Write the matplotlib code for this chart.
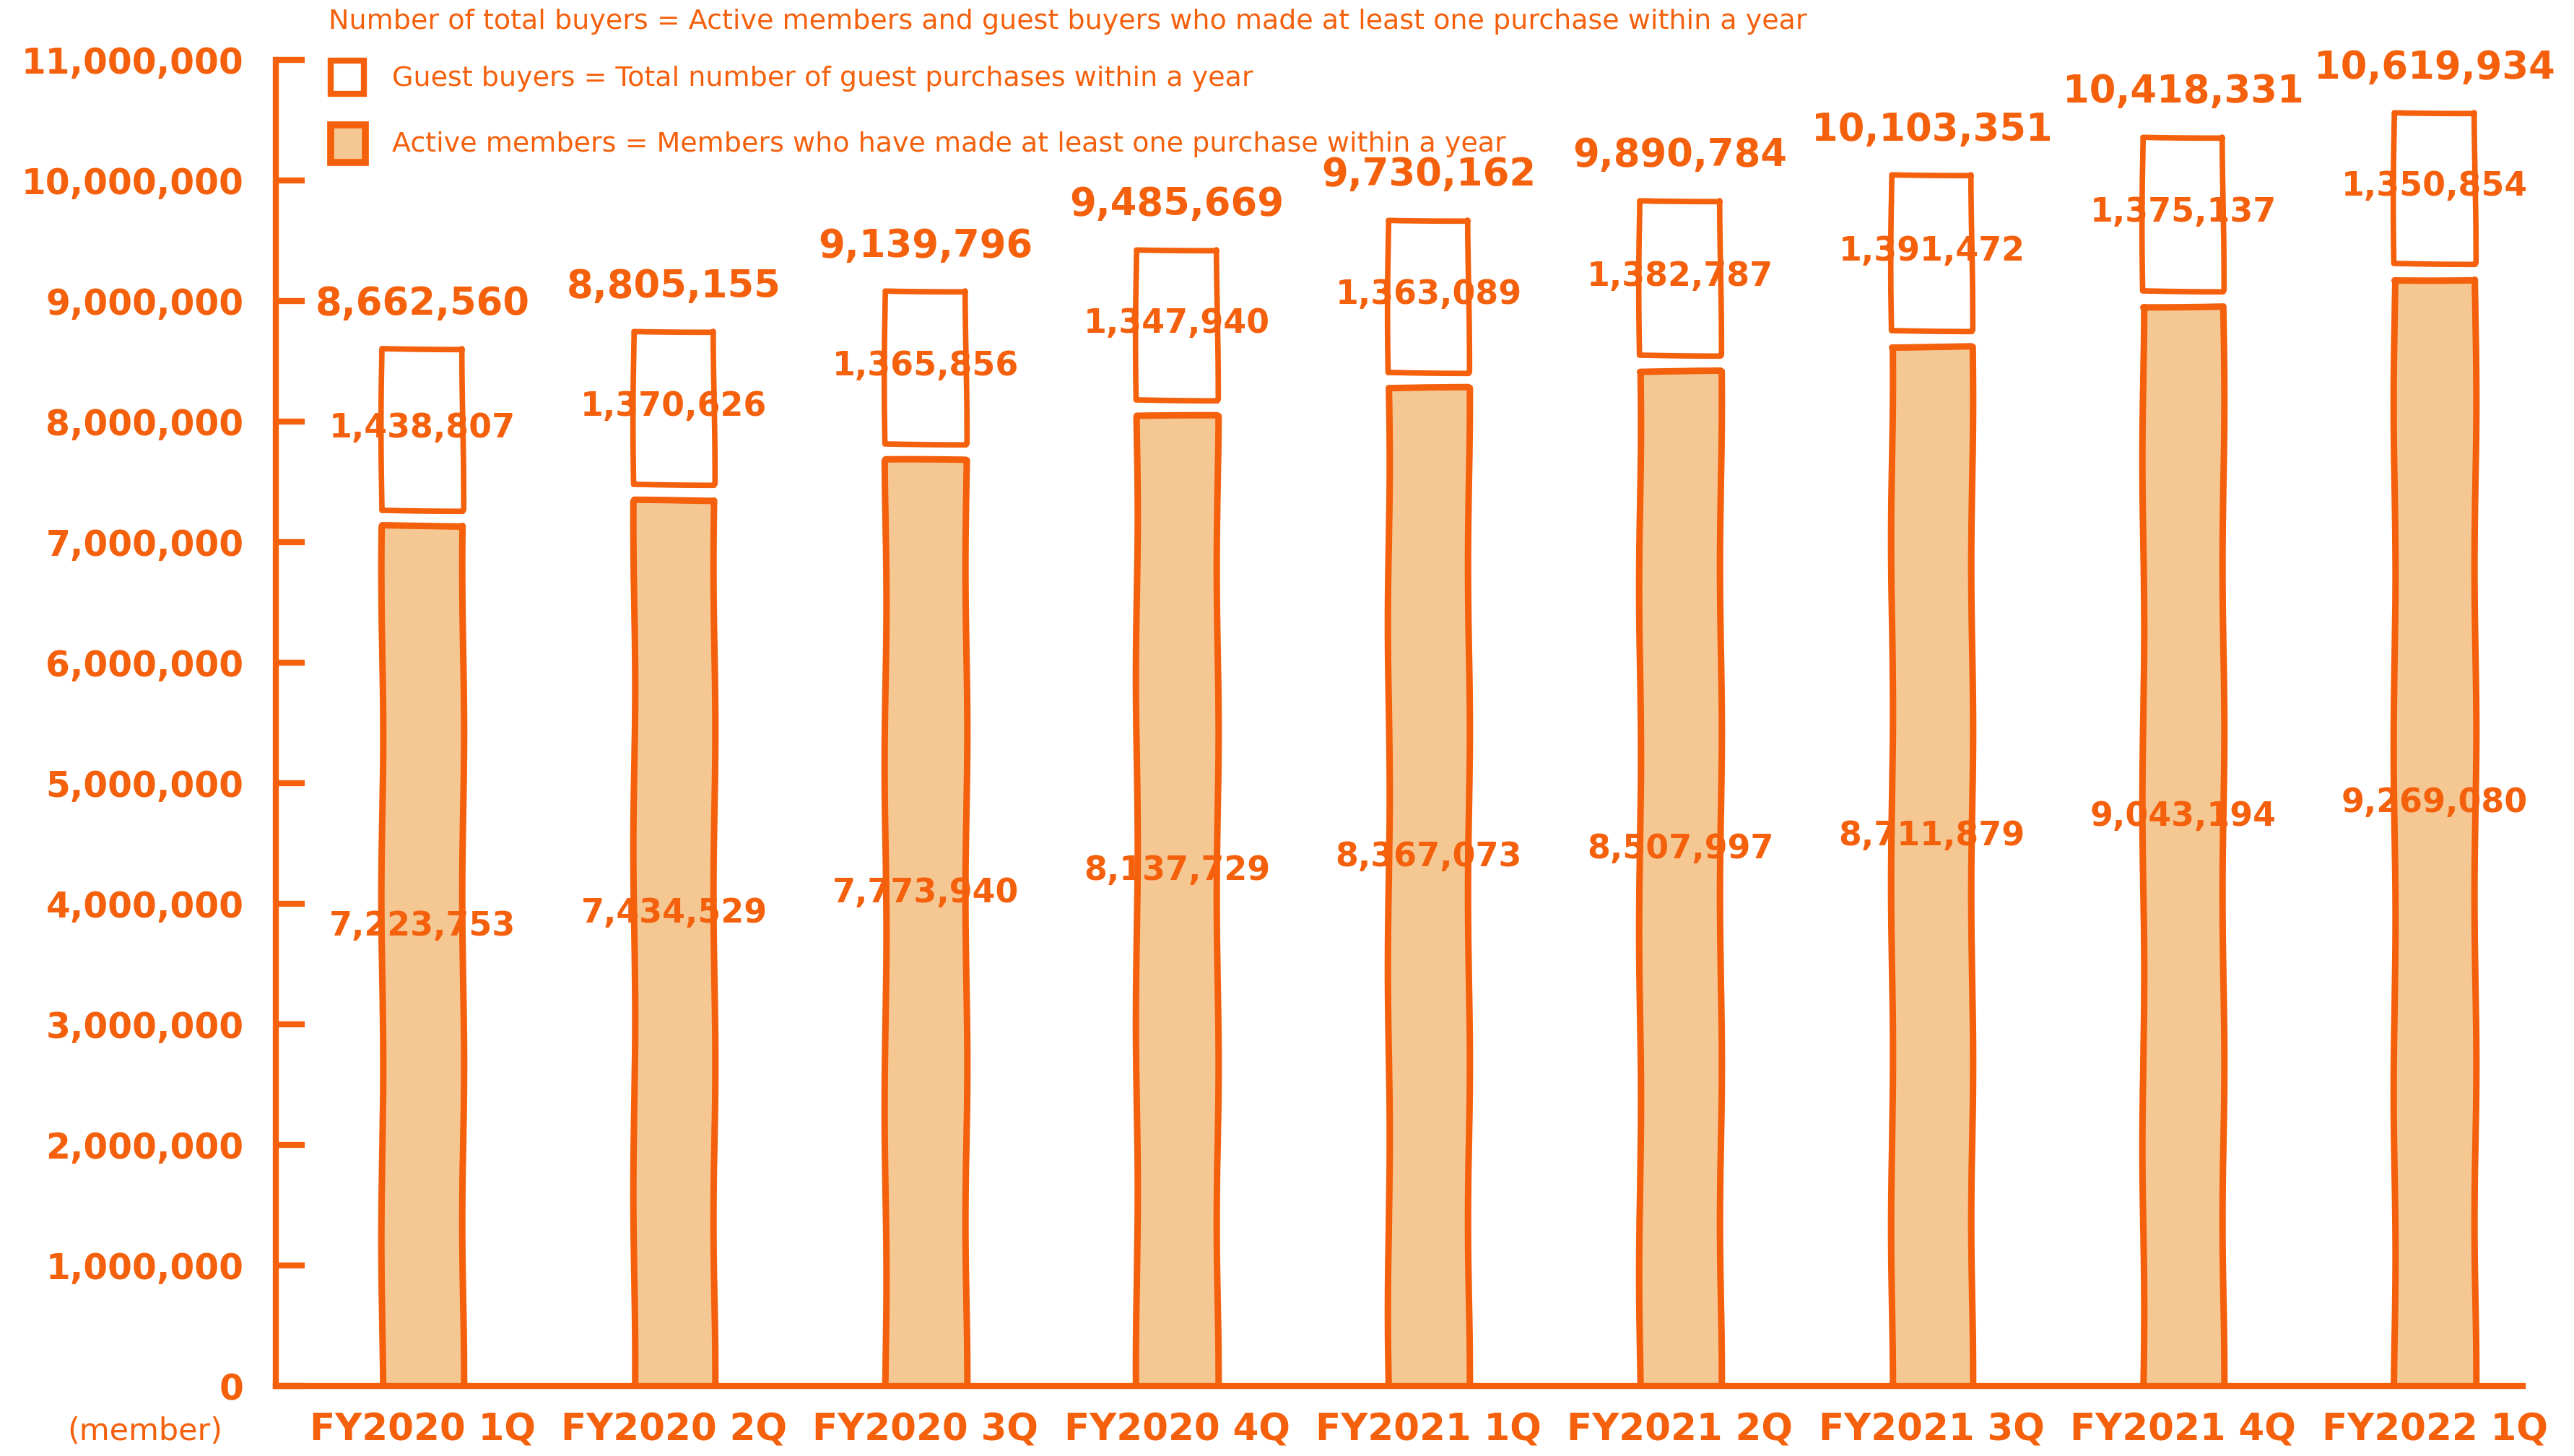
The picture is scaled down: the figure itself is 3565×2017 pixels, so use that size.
import matplotlib
matplotlib.use("Agg")
import matplotlib.pyplot as plt
from matplotlib.patches import Rectangle
import numpy as np

plt.rcParams['font.family'] = ['DejaVu Sans']

categories = ["FY2020 1Q", "FY2020 2Q", "FY2020 3Q", "FY2020 4Q", "FY2021 1Q",
              "FY2021 2Q", "FY2021 3Q", "FY2021 4Q", "FY2022 1Q"]
active_members = [7223753, 7434529, 7773940, 8137729, 8367073,
                  8507997, 8711879, 9043194, 9269080]
guest_buyers = [1438807, 1370626, 1365856, 1347940, 1363089,
                1382787, 1391472, 1375137, 1350854]
total_buyers = [8662560, 8805155, 9139796, 9485669, 9730162,
                9890784, 10103351, 10418331, 10619934]
y_ticks = list(range(0, 11000001, 1000000))

ORANGE = '#F4600C'
PEACH = '#F5C893'

W, H = 3566, 2017
fig = plt.figure(figsize=(W / 100, H / 100), dpi=100)
ax = fig.add_axes([382 / W, (H - 1920) / H, (3494 - 382) / W, (1920 - 82.6) / H])
ax.set_xlim(-0.583, 8.35)
ax.set_ylim(0, 11e6)

x = np.arange(len(categories))
gap_lo, gap_hi = 0.09e6, 0.04e6
act = np.array(active_members, float)
gst = np.array(guest_buyers, float)
tot = np.array(total_buyers, float)

bars_a = ax.bar(x, act - gap_lo, width=0.32, color=PEACH, edgecolor=ORANGE,
                linewidth=6.5, zorder=3, joinstyle='round')
bars_g = ax.bar(x, tot - act - gap_hi - 0.06e6, bottom=act + gap_hi, width=0.32,
                color='white', edgecolor=ORANGE, linewidth=5.5, zorder=3,
                joinstyle='round')
for b in list(bars_a) + list(bars_g):
    b.set_sketch_params(scale=1.3, length=500, randomness=2)

# labels
for i in range(len(x)):
    ax.annotate(f"{total_buyers[i]:,}", (x[i], tot[i]), xytext=(0, 19),
                textcoords='offset points', ha='center', va='bottom',
                fontsize=38, fontweight='bold', color=ORANGE, zorder=5)
    ax.text(x[i], act[i] + gst[i] / 2, f"{guest_buyers[i]:,}", ha='center',
            va='center', fontsize=33, fontweight='bold', color=ORANGE, zorder=5)
    ax.text(x[i], act[i] / 2 + 0.2e6, f"{active_members[i]:,}", ha='center',
            va='center', fontsize=33, fontweight='bold', color=ORANGE, zorder=5)

for s in ['top', 'right']:
    ax.spines[s].set_visible(False)
for s in ['left', 'bottom']:
    ax.spines[s].set_color(ORANGE)
    ax.spines[s].set_linewidth(6)
    ax.spines[s].set_zorder(4)

ax.set_yticks(y_ticks)
ax.set_yticklabels([f"{v:,}" for v in y_ticks])
ax.tick_params(axis='y', direction='in', length=29, width=6, color=ORANGE,
               labelcolor=ORANGE, labelsize=35, pad=32)
ax.set_xticks(x)
ax.set_xticklabels(categories)
ax.tick_params(axis='x', length=0, labelcolor=ORANGE, labelsize=37, pad=26)
for lab in ax.get_xticklabels() + ax.get_yticklabels():
    lab.set_fontweight('bold')

fig.text(201 / W, 1 - 1983 / H, "(member)", ha='center', va='center',
         fontsize=31, color=ORANGE)

# legend
fig.text(455 / W, 1 - 30 / H,
         "Number of total buyers = Active members and guest buyers who made at least one purchase within a year",
         ha='left', va='center', fontsize=27.4, color=ORANGE)
fig.patches.append(Rectangle((458 / W, 1 - 130 / H), 46 / W, 46 / H, transform=fig.transFigure,
                             facecolor='white', edgecolor=ORANGE, linewidth=6))
fig.patches.append(Rectangle((458 / W, 1 - 225 / H), 48 / W, 52 / H, transform=fig.transFigure,
                             facecolor=PEACH, edgecolor=ORANGE, linewidth=7))
fig.text(543 / W, 1 - 109 / H, "Guest buyers = Total number of guest purchases within a year",
         ha='left', va='center', fontsize=27.4, color=ORANGE)
fig.text(543 / W, 1 - 200 / H,
         "Active members = Members who have made at least one purchase within a year",
         ha='left', va='center', fontsize=27.4, color=ORANGE)

fig.savefig("out.png", dpi=100)
